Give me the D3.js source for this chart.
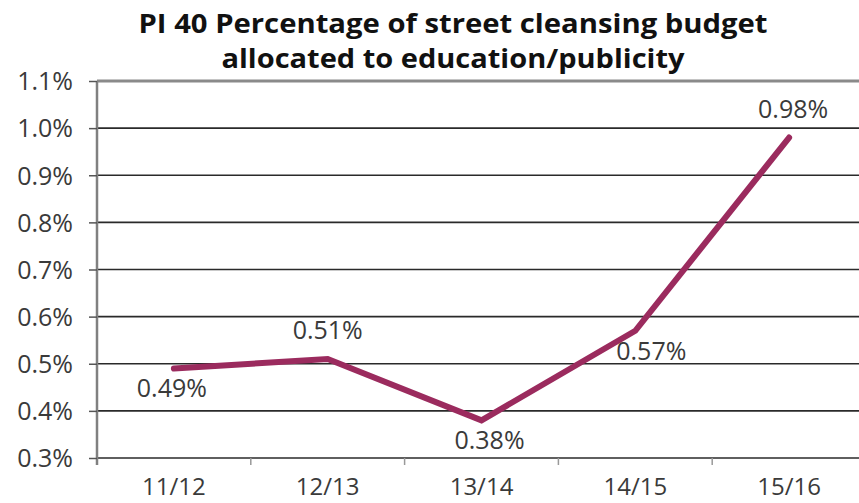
<!DOCTYPE html>
<html><head><meta charset="utf-8">
<script src="https://cdn.jsdelivr.net/npm/d3@7"></script>
<style>body{margin:0;background:#fff}svg{display:block}</style>
</head><body>
<script>
const categories = ["11/12","12/13","13/14","14/15","15/16"];
const values = [0.49, 0.51, 0.38, 0.57, 0.98];
const valueLabels = ["0.49%","0.51%","0.38%","0.57%","0.98%"];
const labelSide = ["below","above","below","below","above"];
const yTicks = [0.3,0.4,0.5,0.6,0.7,0.8,0.9,1.0,1.1];
const titleLines = ["PI 40 Percentage of street cleansing budget","allocated to education/publicity"];

const W=859,H=503;
const svg=d3.select("body").append("svg").attr("width",W).attr("height",H);
const m={l:97,r:-7,t:81,b:45};
const x=d3.scaleBand().domain(categories).range([m.l,W-m.r]);
const y=d3.scaleLinear().domain([0.3,1.1]).range([458,81]);
const font="'Open Sans', 'Noto Sans', sans-serif";
const fs=25;

// gridlines
svg.append("g").selectAll("line").data(yTicks).join("line")
  .attr("x1",m.l).attr("x2",W).attr("y1",d=>y(d)).attr("y2",d=>y(d))
  .attr("stroke",d=>d===1.1?"#8a8a8a":"#2a2a2a")
  .attr("stroke-width",d=>d===1.1?3:1.6);

// y axis
const ya=svg.append("g").attr("transform",`translate(${m.l},0)`)
  .call(d3.axisLeft(y).tickValues(yTicks).tickSize(8).tickSizeOuter(0).tickFormat(d=>d3.format(".1f")(d)+"%"));
ya.select(".domain").attr("stroke","#808080").attr("stroke-width",2.5).attr("d",`M0,${y(1.1)}V465`);
ya.selectAll(".tick line").attr("stroke","#555").attr("stroke-width",1.5);
ya.selectAll(".tick text").attr("font-family",font).attr("font-size",fs).attr("fill","#3a3a3a").attr("x",-24).attr("dy","0.35em");

// x axis
const xa=svg.append("g").attr("transform",`translate(0,458)`)
  .call(d3.axisBottom(x).tickSize(0).tickSizeOuter(0));
xa.select(".domain").remove();
xa.selectAll(".tick text").attr("font-family",font).attr("font-size",24).attr("fill","#3a3a3a").attr("y",37).attr("dy","0");
svg.append("g").selectAll("line").data(categories.slice(1)).join("line")
  .attr("x1",d=>x(d)).attr("x2",d=>x(d)).attr("y1",458).attr("y2",465)
  .attr("stroke","#999").attr("stroke-width",1.5);

// line
const line=d3.line().x((d,i)=>x(categories[i])+x.bandwidth()/2).y(d=>y(d));
svg.append("path").datum(values).attr("d",line).attr("fill","none")
  .attr("stroke","#9b2b5e").attr("stroke-width",6).attr("stroke-linejoin","miter").attr("stroke-linecap","round");

// labels
const dxs=[-2,0,8,16,4];
svg.append("g").selectAll("text").data(values).join("text")
  .attr("x",(d,i)=>x(categories[i])+x.bandwidth()/2+dxs[i])
  .attr("y",(d,i)=>y(d)+(labelSide[i]==="below"?29:-20))
  .attr("text-anchor","middle").attr("font-family",font).attr("font-size",fs).attr("fill","#3a3a3a")
  .text((d,i)=>valueLabels[i]);

// title
const tl=[629,463];
svg.append("g").selectAll("text").data(titleLines).join("text")
  .attr("x",453).attr("y",(d,i)=>33+i*35).attr("text-anchor","middle")
  .attr("font-family","'Open Sans', 'Noto Sans', sans-serif").attr("font-weight","bold").attr("font-size",27)
  .attr("fill","#111").attr("textLength",(d,i)=>tl[i]).attr("lengthAdjust","spacingAndGlyphs")
  .text(d=>d);
</script>
</body></html>
